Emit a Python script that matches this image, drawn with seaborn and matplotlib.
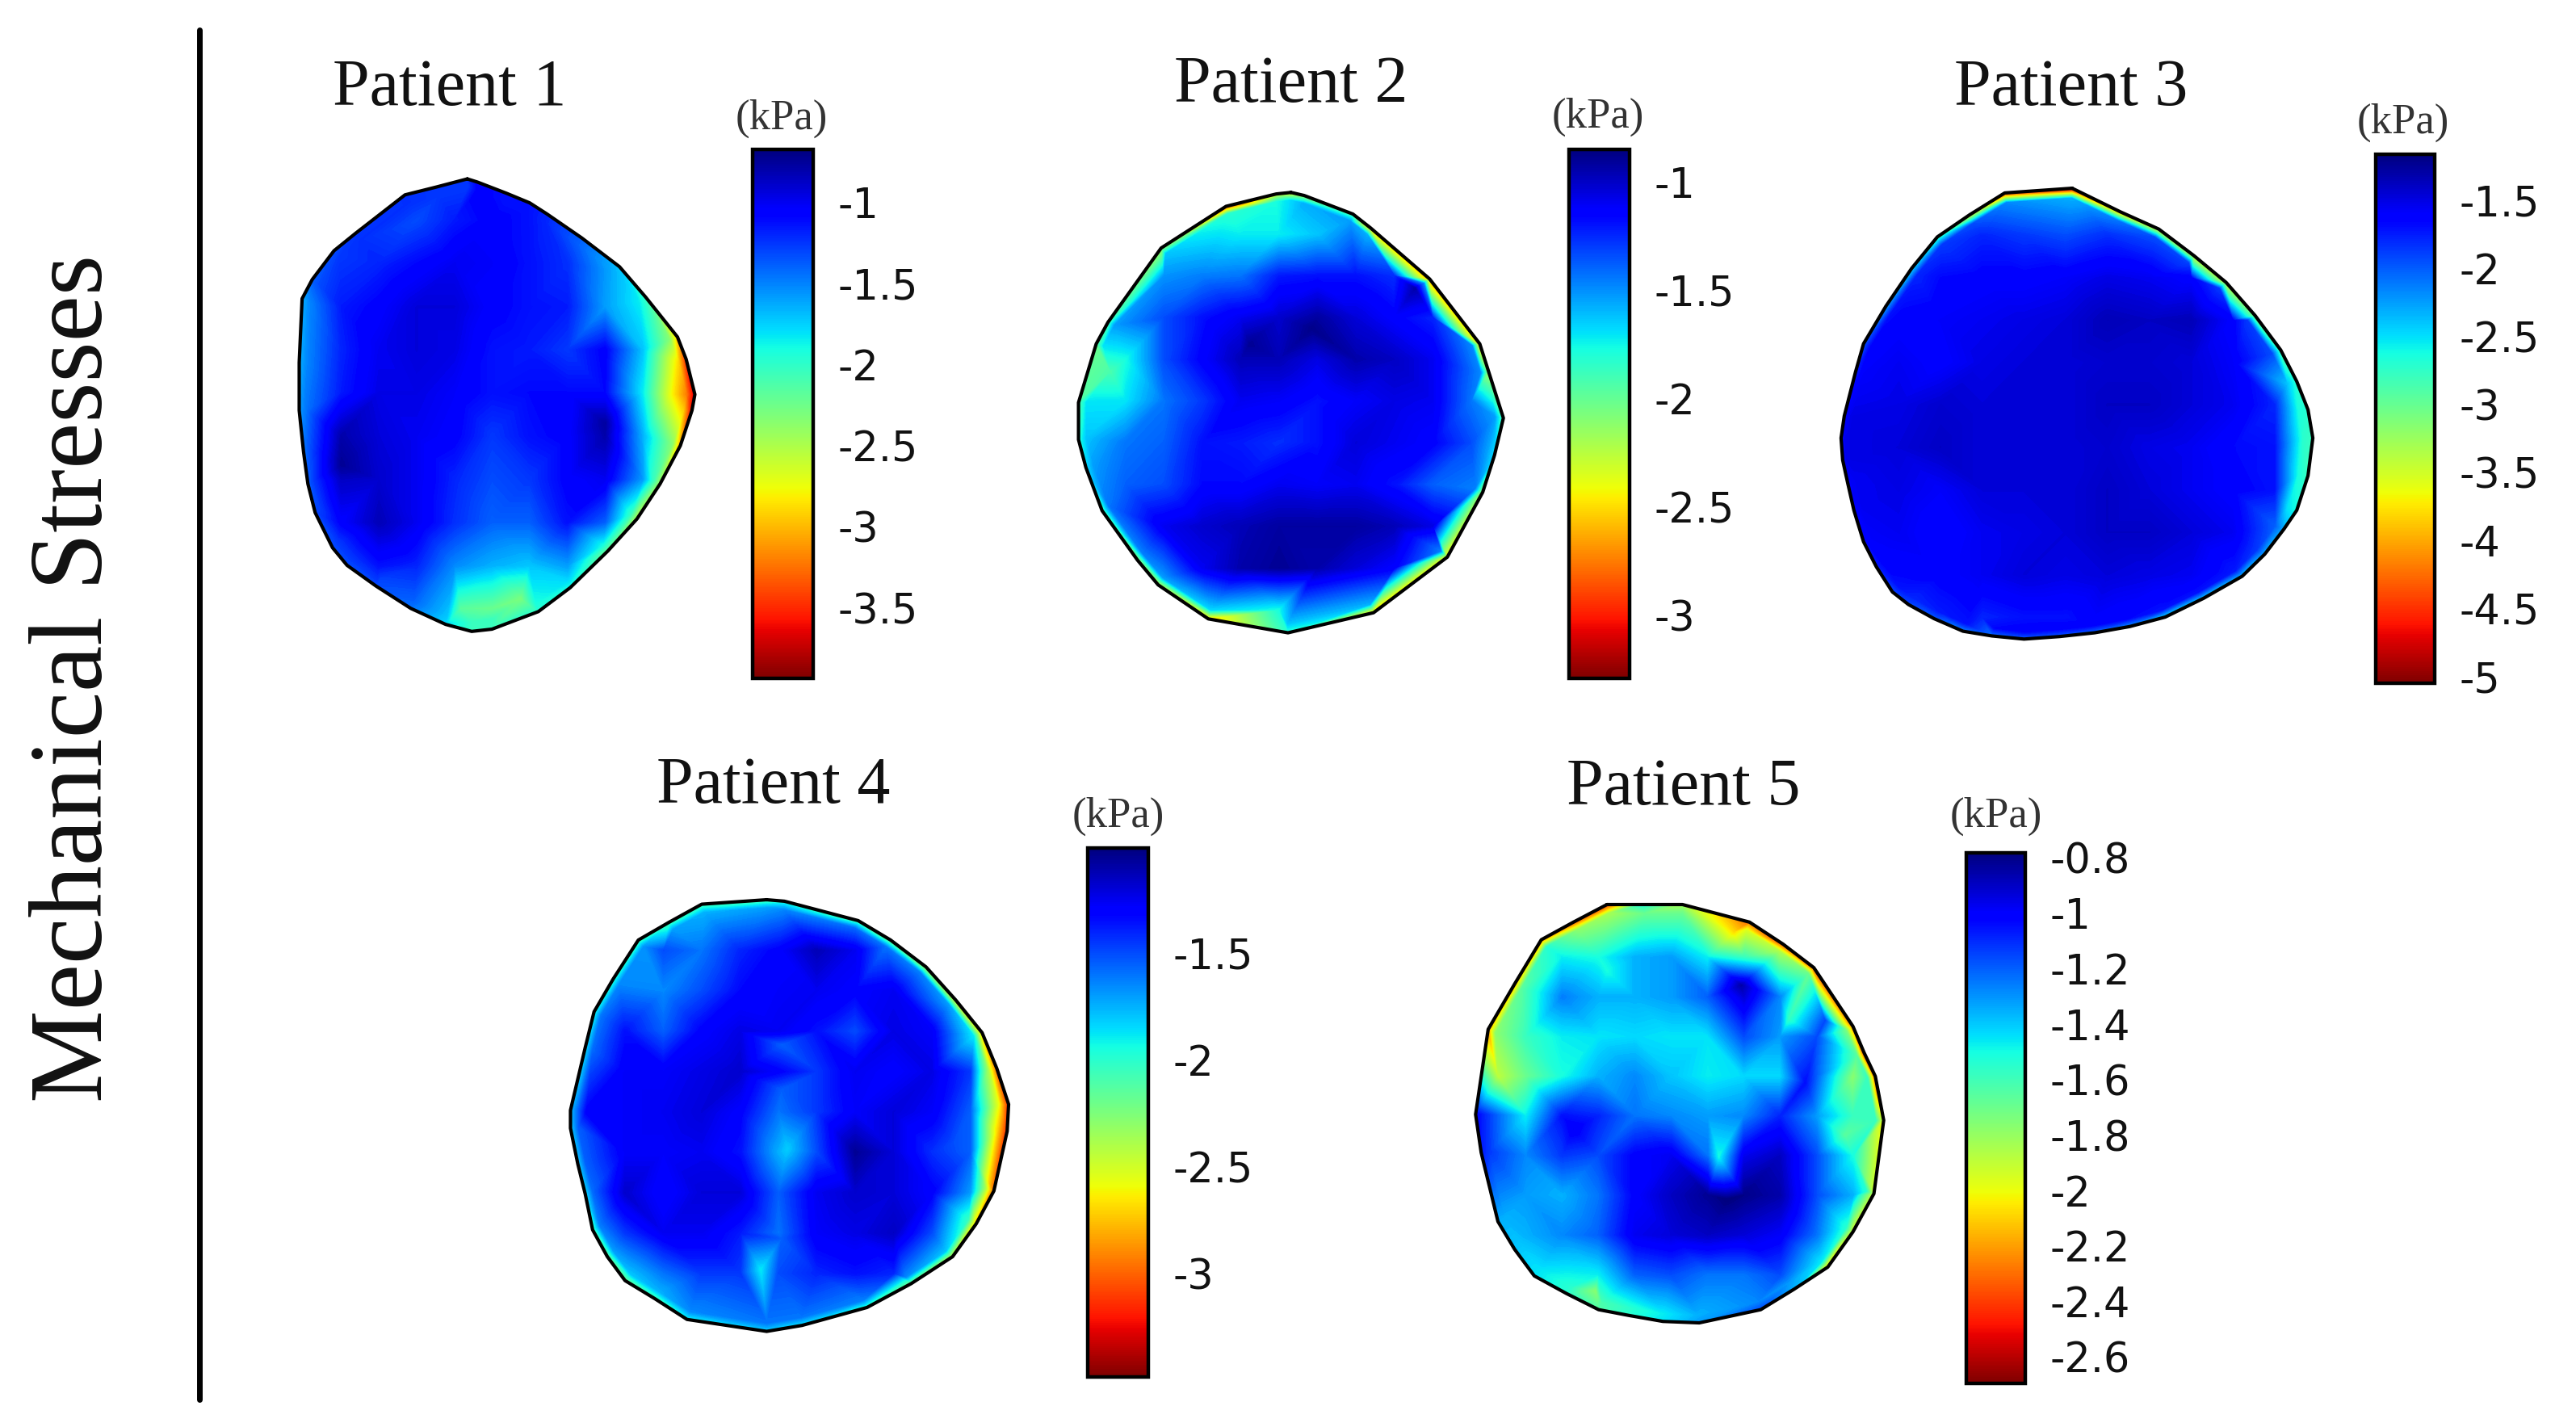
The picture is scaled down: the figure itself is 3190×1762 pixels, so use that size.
import numpy as np
import pandas as pd
import seaborn as sns
import matplotlib
matplotlib.use('Agg')
import matplotlib.pyplot as plt
from matplotlib.cm import ScalarMappable
from matplotlib.colors import Normalize
from matplotlib.lines import Line2D
from matplotlib.patches import Polygon
from matplotlib.path import Path

W, H = 3190, 1762
_ = np.nan

# sample nodes inside each patient frame (frame is 1560 x 1568 units)
grid_x = [100, 230, 360, 490, 620, 750, 880, 1010, 1140, 1270, 1400]
grid_y = [235, 370, 505, 640, 775, 910, 1045, 1180, 1315, 1450]

# values below are levels, 0 = top of bar, 100 = bottom
p1_x = [665, 700, 800, 880, 940, 1060, 1190, 1280, 1390, 1420, 1450, 1440, 1400, 1330, 1250, 1150, 1020, 910,
        750, 680, 590, 470, 350, 250, 200, 140, 115, 100, 85, 85, 95, 130, 205, 280, 450, 560]
p1_y = [105, 115, 150, 180, 215, 290, 380, 475, 600, 670, 780, 830, 940, 1060, 1170, 1270, 1385, 1460,
        1515, 1522, 1500, 1450, 1380, 1315, 1260, 1150, 1060, 960, 830, 680, 480, 420, 330, 275, 155, 130]
p1_rim = [18, 12, 14, 14, 16, 22, 32, 42, 72, 88, 95, 92, 75, 55, 58, 48, 38, 40,
          42, 42, 34, 24, 20, 20, 20, 20, 22, 24, 28, 30, 30, 22, 20, 18, 17, 18]
p1_ring = [18, 12, 14, 14, 16, 22, 30, 36, 52, 68, 78, 70, 52, 42, 42, 38, 34, 38,
           42, 42, 32, 22, 19, 18, 18, 18, 18, 20, 24, 26, 26, 20, 18, 17, 17, 18]
p1_grid = [[_, _, _, 20, 15, 12, 14, _, _, _, _],
           [_, 20, 16, 13, 10, 11, 14, 17, 22, _, _],
           [22, 15, 12, 8, 8, 12, 14, 15, 28, 33, _],
           [28, 16, 10, 8, 9, 14, 15, 18, 12, 32, _],
           [28, 15, 9, 9, 11, 14, 13, 13, 13, 36, 65],
           [24, 4, 8, 10, 12, 18, 14, 12, 4, 30, _],
           [22, 6, 7, 10, 16, 20, 18, 12, 10, 28, _],
           [_, 12, 5, 10, 17, 22, 22, 14, 22, _, _],
           [_, 18, 14, 16, 26, 30, 32, 28, 38, _, _],
           [_, _, _, _, 40, 48, 45, _, _, _, _]]
p1_spots = [(640, 1450, 46), (850, 1420, 50), (1370, 780, 65), (230, 1000, 2), (1140, 870, 3)]

p2_x = [790, 835, 1000, 1060, 1260, 1430, 1460, 1510, 1480, 1440, 1320, 1070, 780, 510, 340, 270, 150, 95, 70, 70,
        130, 170, 350, 570, 740]
p2_y = [100, 110, 170, 215, 380, 590, 680, 830, 950, 1070, 1280, 1460, 1525, 1480, 1370, 1290, 1130, 990, 900, 780,
        590, 520, 280, 145, 105]
p2_rim = [65, 55, 45, 70, 75, 70, 55, 45, 35, 55, 65, 70, 40, 70, 60, 55, 45, 35, 40, 45, 48, 45, 55, 88, 62]
p2_ring = [34, 30, 28, 30, 26, 26, 26, 28, 28, 25, 25, 30, 32, 34, 28, 25, 24, 28, 32, 35, 35, 28, 32, 40, 38]
p2_grid = [[_, _, _, 35, 36, 36, 32, 30, _, _, _],
           [_, _, 27, 25, 24, 15, 14, 14, 17, _, _],
           [_, 26, 20, 14, 10, 7, 3, 8, 12, 16, _],
           [_, 38, 20, 12, 5, 5, 9, 4, 6, 10, 22],
           [38, 35, 24, 18, 10, 11, 14, 11, 9, 10, 24],
           [35, 24, 22, 14, 15, 17, 14, 8, 10, 12, 20],
           [30, 22, 20, 13, 13, 10, 11, 10, 14, 22, 24],
           [_, 18, 10, 7, 5, 3, 3, 3, 5, 9, _],
           [_, _, 22, 10, 4, 2, 4, 8, 12, 20, _],
           [_, _, _, _, 30, 38, 34, 30, _, _, _]]
p2_spots = [(180, 680, 44), (860, 540, 1), (650, 590, 2), (1210, 410, 4)]

p3_x = [770, 810, 920, 1040, 1150, 1250, 1340, 1420, 1470, 1505, 1520, 1505, 1470, 1430, 1370, 1300, 1180, 1060, 950,
        840, 730, 620, 520, 430, 340, 260, 210, 160, 120, 90, 70, 55, 50, 60, 75, 95, 120, 190, 270, 350, 450, 560]
p3_y = [85, 105, 160, 215, 300, 385, 490, 600, 700, 790, 880, 1000, 1110, 1170, 1250, 1320, 1390, 1450, 1480,
        1500, 1512, 1520, 1510, 1495, 1455, 1410, 1370, 1290, 1210, 1110, 1020, 950, 880, 810, 750, 670, 580, 460, 340, 240, 170, 100]
p3_rim = [100, 88, 75, 65, 62, 60, 52, 45, 40, 40, 42, 42, 38, 30, 30, 32, 34, 36, 28,
          24, 22, 22, 24, 26, 22, 20, 20, 16, 14, 12, 11, 10, 10, 11, 12, 16, 22, 30, 36, 45, 65, 92]
p3_ring = [30, 28, 24, 20, 19, 18, 18, 20, 32, 38, 40, 38, 35, 22, 18, 15, 14, 14, 13,
           12, 12, 12, 13, 14, 15, 16, 14, 12, 11, 10, 10, 9, 9, 9, 10, 11, 12, 14, 16, 18, 20, 26]
p3_grid = [[_, _, _, 16, 18, 20, 17, _, _, _, _],
           [_, _, 13, 12, 12, 11, 9, 10, 12, _, _],
           [_, 12, 11, 10, 9, 8, 5, 6, 5, 12, _],
           [_, 10, 12, 9, 8, 8, 7, 7, 8, 11, 20],
           [10, 9, 7, 8, 8, 8, 6, 6, 8, 10, 16],
           [9, 8, 6, 8, 8, 8, 7, 9, 10, 13, 14],
           [11, 9, 11, 8, 8, 8, 6, 8, 10, 12, 14],
           [_, 10, 13, 10, 9, 8, 6, 6, 8, 10, _],
           [_, 14, 12, 10, 8, 9, 8, 9, 10, 16, _],
           [_, _, _, 16, 14, 14, 14, _, _, _, _]]
p3_spots = []

p4_x = [710, 770, 1020, 1130, 1250, 1350, 1440, 1490, 1530, 1525, 1480, 1420, 1340, 1200, 1050, 830, 710, 440, 330,
        230, 170, 120, 95, 70, 45, 45, 95, 125, 190, 275, 380, 490]
p4_y = [65, 70, 135, 200, 290, 400, 510, 630, 750, 840, 1040, 1150, 1260, 1350, 1430, 1490, 1510, 1470, 1400,
        1340, 1260, 1170, 1050, 950, 830, 770, 560, 440, 330, 200, 140, 80]
p4_rim = [44, 40, 45, 50, 58, 65, 72, 82, 88, 88, 82, 72, 60, 50, 42, 36, 34, 38, 44,
          50, 48, 45, 36, 34, 34, 32, 36, 40, 42, 44, 44, 44]
p4_ring = [28, 26, 23, 24, 25, 28, 36, 55, 65, 70, 55, 42, 32, 26, 25, 24, 24, 26, 30,
           32, 28, 25, 23, 22, 22, 22, 23, 24, 26, 27, 28, 30]
p4_grid = [[_, _, 20, 24, 16, 12, 5, 10, 18, _, _],
           [_, 17, 26, 20, 13, 11, 10, 12, 10, 20, _],
           [_, 14, 22, 12, 9, 10, 14, 20, 9, 11, 24],
           [11, 11, 11, 9, 7, 12, 18, 10, 12, 9, 18],
           [12, 11, 10, 8, 12, 24, 18, 11, 8, 11, 22],
           [12, 11, 11, 10, 14, 30, 20, 2, 8, 17, 22],
           [_, 7, 13, 8, 8, 22, 10, 7, 8, 12, 28],
           [_, 18, 10, 10, 15, 24, 11, 9, 6, 20, _],
           [_, 34, 24, 18, 18, 20, 16, 14, 16, 30, _],
           [_, _, _, 26, 26, 28, 26, _, _, _, _]]
p4_spots = [(690, 1305, 36), (760, 1200, 22), (780, 900, 33), (760, 700, 22), (760, 550, 22), (1340, 880, 20)]

p5_x = [520, 650, 790, 1030, 1150, 1260, 1400, 1440, 1480, 1510, 1475, 1400, 1310, 1190, 1070, 850, 720, 600, 490,
        375, 260, 190, 130, 70, 50, 95, 190, 285, 400]
p5_y = [55, 55, 55, 115, 190, 270, 470, 560, 640, 790, 1040, 1170, 1290, 1365, 1435, 1480, 1475, 1455, 1435,
        1380, 1320, 1230, 1135, 900, 770, 480, 325, 175, 115]
p5_rim = [88, 40, 55, 80, 85, 85, 80, 88, 85, 65, 60, 62, 70, 30, 20, 28, 35, 40, 45,
          40, 35, 32, 30, 15, 12, 75, 75, 80, 85]
p5_ring = [55, 48, 48, 62, 56, 48, 50, 46, 42, 42, 40, 40, 36, 28, 26, 30, 36, 40, 44,
           40, 35, 32, 30, 18, 16, 52, 46, 40, 52]
p5_grid = [[_, _, 36, 38, 30, 28, 36, 42, 50, _, _],
           [_, 40, 25, 30, 30, 28, 22, 8, 26, 34, _],
           [55, 42, 36, 35, 34, 35, 35, 20, 28, 20, 60],
           [58, 48, 38, 30, 26, 32, 36, 34, 34, 22, 52],
           [42, 36, 14, 16, 24, 26, 28, 26, 16, 28, 42],
           [20, 26, 18, 20, 12, 10, 24, 10, 6, 20, 38],
           [28, 28, 30, 24, 12, 6, 2, 1, 4, 20, 30],
           [_, 30, 26, 22, 10, 8, 6, 8, 11, 24, _],
           [_, _, 36, 36, 22, 20, 24, 24, 20, _, _],
           [_, _, _, _, _, _, _, _, _, _, _]]
p5_spots = [(920, 915, 38), (1230, 660, 14), (1170, 445, 42), (975, 150, 68), (1370, 840, 46), (480, 1370, 52),
            (520, 280, 38), (1000, 330, 4), (400, 820, 11), (950, 1060, 0), (130, 640, 58), (1300, 450, 20)]

# colour bars: kPa at top and bottom of the bar, ticks
p1_top, p1_bot = -0.676, -3.935
p2_top, p2_bot = -0.85, -3.29
p3_top, p3_bot = -1.16, -5.05
p4_top, p4_bot = -1.008, -3.485
p5_top, p5_bot = -0.782, -2.695
p1_ticks = ['-1', '-1.5', '-2', '-2.5', '-3', '-3.5']
p2_ticks = ['-1', '-1.5', '-2', '-2.5', '-3']
p3_ticks = ['-1.5', '-2', '-2.5', '-3', '-3.5', '-4', '-4.5', '-5']
p4_ticks = ['-1.5', '-2', '-2.5', '-3']
p5_ticks = ['-0.8', '-1', '-1.2', '-1.4', '-1.6', '-1.8', '-2', '-2.2', '-2.4', '-2.6']

titles = ['Patient 1', 'Patient 2', 'Patient 3', 'Patient 4', 'Patient 5']

sns.set_theme(style='white')
plt.rcParams['font.family'] = ['DejaVu Sans']
jet_r = sns.color_palette('jet_r', as_cmap=True)

fig = plt.figure(figsize=(W / 200, H / 200), dpi=200, facecolor='white')


def px_axes(x, y, w, h):
    return fig.add_axes([x / W, 1 - (y + h) / H, w / W, h / H])


def draw_patient(frame, title_xy, xs, ys, rim, ring, grid, spots, top, bot):
    ax = px_axes(*frame)
    xs = np.array(xs, float)
    ys = np.array(ys, float)
    cx, cy = xs.mean(), ys.mean()
    # points of the inner ring sit just inside the outline, that keeps the hot rim thin
    rx = cx + 0.96 * (xs - cx)
    ry = cy + 0.96 * (ys - cy)
    inner = Path(np.column_stack([cx + 0.92 * (xs - cx), cy + 0.92 * (ys - cy)]))
    gx, gy = np.meshgrid(grid_x, grid_y)
    gv = np.array(grid, float)
    keep = ~np.isnan(gv) & inner.contains_points(np.column_stack([gx.ravel(), gy.ravel()])).reshape(gv.shape)
    sx = [s[0] for s in spots]
    sy = [s[1] for s in spots]
    sv = [s[2] for s in spots]
    all_x = np.concatenate([xs, rx, gx[keep], sx])
    all_y = np.concatenate([ys, ry, gy[keep], sy])
    level = np.concatenate([rim, ring, gv[keep], sv])
    kpa = top - level / 100 * (top - bot)

    cs = ax.tricontourf(all_x, all_y, kpa, levels=np.linspace(bot, top, 200), cmap=jet_r,
                        vmin=bot, vmax=top, extend='both')
    clip = Polygon(np.column_stack([xs, ys]), closed=True, transform=ax.transData, fc='none', ec='none')
    ax.add_patch(clip)
    cs.set_clip_path(clip)

    outline = pd.DataFrame({'x': np.append(xs, xs[0]), 'y': np.append(ys, ys[0])})
    sns.lineplot(data=outline, x='x', y='y', sort=False, estimator=None, color='black', lw=1.5, ax=ax, legend=False)
    ax.set_xlim(0, 1560)
    ax.set_ylim(1568, 0)
    ax.set_axis_off()
    fig.text(title_xy[0] / W, 1 - title_xy[1] / H, title_xy[2], ha='center', va='center', fontsize=29.5,
             family='Liberation Serif', color='#111111')


def draw_bar(box, unit_xy, top, bot, ticks):
    cax = px_axes(*box)
    cb = fig.colorbar(ScalarMappable(Normalize(bot, top), jet_r), cax=cax)
    vals = [float(t) for t in ticks]
    cb.set_ticks(vals, labels=ticks)
    cax.tick_params(axis='y', direction='in', left=True, right=True, length=5.5, width=1.1, color='black',
                    labelsize=18.3, pad=11, labelcolor='#111111')
    cb.outline.set_linewidth(1.6)
    cb.outline.set_edgecolor('black')
    fig.text(unit_xy[0] / W, 1 - unit_xy[1] / H, '(kPa)', ha='center', va='center', fontsize=19,
             family='Liberation Serif', color='#333333')


draw_patient((340, 180, 560, 620), (557, 110, titles[0]), p1_x, p1_y, p1_rim, p1_ring, p1_grid, p1_spots, p1_top, p1_bot)
draw_patient((1310, 200, 570, 600), (1599, 106, titles[1]), p2_x, p2_y, p2_rim, p2_ring, p2_grid, p2_spots, p2_top, p2_bot)
draw_patient((2260, 200, 620, 610), (2565, 110, titles[2]), p3_x, p3_y, p3_rim, p3_ring, p3_grid, p3_spots, p3_top, p3_bot)
draw_patient((690, 1090, 570, 580), (958, 974, titles[3]), p4_x, p4_y, p4_rim, p4_ring, p4_grid, p4_spots, p4_top, p4_bot)
draw_patient((1810, 1100, 540, 570), (2085, 976, titles[4]), p5_x, p5_y, p5_rim, p5_ring, p5_grid, p5_spots, p5_top, p5_bot)

draw_bar((932, 185, 75, 655), (968, 147), p1_top, p1_bot, p1_ticks)
draw_bar((1943, 185, 75, 655), (1979, 145), p2_top, p2_bot, p2_ticks)
draw_bar((2942, 191, 73, 655), (2976, 152), p3_top, p3_bot, p3_ticks)
draw_bar((1347, 1050, 75, 655), (1385, 1011), p4_top, p4_bot, p4_ticks)
draw_bar((2435, 1056, 73, 657), (2472, 1011), p5_top, p5_bot, p5_ticks)

# side label and rule
fig.text(95 / W, 1 - 840 / H, 'Mechanical Stresses', rotation=90, ha='center', va='center', fontsize=46.5,
         family='Liberation Serif', color='#111111')
fig.add_artist(Line2D([247 / W, 247 / W], [1 - 37 / H, 1 - 1733 / H], color='black', lw=2.5))

fig.savefig('out.png', dpi=200, facecolor='white')
